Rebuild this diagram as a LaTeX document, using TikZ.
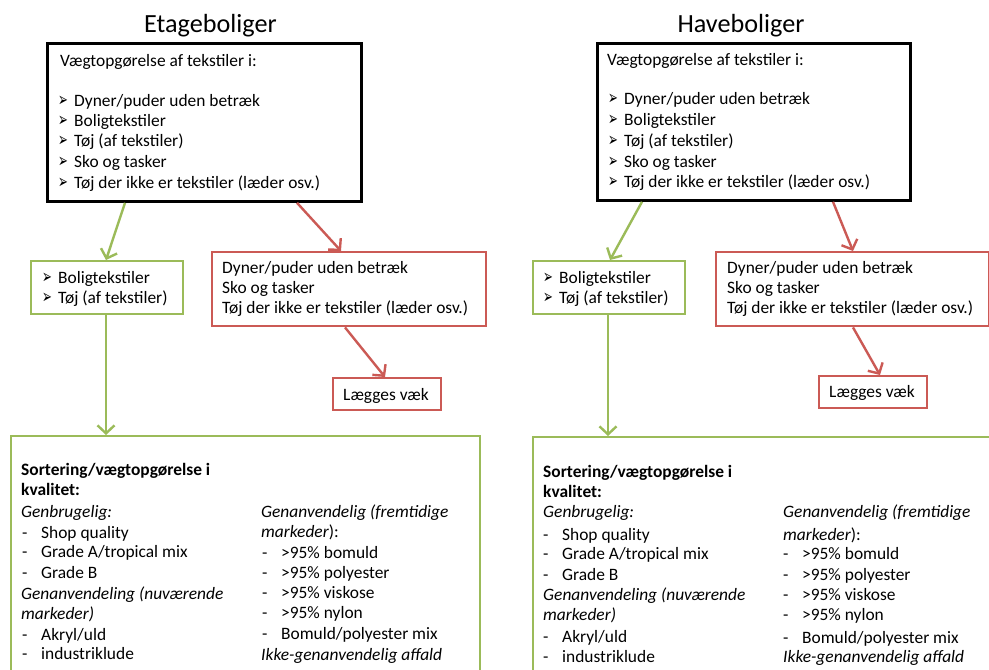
\documentclass[tikz,border=0pt]{standalone}
\usepackage{fontspec}
\setmainfont{Carlito}
\newfontfamily\symfont{DejaVu Sans}
\usetikzlibrary{arrows.meta,calc}
\definecolor{boxgreen}{HTML}{9BBB59}
\definecolor{boxred}{HTML}{CB5A55}
\newcommand\arrbullet{\makebox[16pt][l]{\raisebox{-0.3pt}{\scalebox{0.78}[1.3]{\symfont\fontsize{15}{16}\selectfont ➢}}}}
\newcommand\dashitem{\makebox[19pt][l]{-}}
\tikzset{
  frame/.style={rectangle, inner sep=0pt, anchor=north west, line width=2.4pt},
  blackframe/.style={frame, draw=black, line width=2.8pt},
  greenframe/.style={frame, draw=boxgreen},
  redframe/.style={frame, draw=boxred},
  txt/.style={anchor=base west, inner sep=0pt, font=\fontsize{17.4}{20}\selectfont},
  ctxt/.style={anchor=base, inner sep=0pt, font=\fontsize{17.4}{20}\selectfont},
  heading/.style={anchor=base, inner sep=0pt, font=\fontsize{26.2}{30}\selectfont},
  greenarrow/.style={draw=boxgreen, line width=2.4pt, -{Straight Barb[length=8pt,width=17pt]}},
  redarrow/.style={draw=boxred, line width=2.4pt, -{Straight Barb[length=8pt,width=17pt]}},
}
\begin{document}
\begin{tikzpicture}[x=1pt,y=-1pt]
\clip (0,0) rectangle (989,670);
\fill[white] (0,0) rectangle (989,670);

% ---------------- Etageboliger ----------------
\node[heading] (titleL) at (210.5,32) {Etageboliger};
\node[blackframe, minimum width=314pt, minimum height=158pt] (qL) at (46,42) {};
\node[txt] (qLh) at (60,66.5) {Vægtopgørelse af tekstiler i:};
\node[txt] (qL1) at (58,106) {\arrbullet Dyner/puder uden betræk};
\node[txt] (qL2) at (58,126) {\arrbullet Boligtekstiler};
\node[txt] (qL3) at (58,146) {\arrbullet Tøj (af tekstiler)};
\node[txt] (qL4) at (58,167) {\arrbullet Sko og tasker};
\node[txt] (qL5) at (58,188) {\arrbullet Tøj der ikke er tekstiler (læder osv.)};

\node[greenframe, minimum width=152pt, minimum height=53pt] (gL) at (30,260) {};
\node[txt] (gL1) at (42,283) {\arrbullet Boligtekstiler};
\node[txt] (gL2) at (42,303) {\arrbullet Tøj (af tekstiler)};

\node[redframe, minimum width=274pt, minimum height=74pt] (rL) at (211,251) {};
\node[txt] (rL1) at (222,273) {Dyner/puder uden betræk};
\node[txt] (rL2) at (222,293) {Sko og tasker};
\node[txt] (rL3) at (222,313) {Tøj der ikke er tekstiler (læder osv.)};

\node[redframe, minimum width=108pt, minimum height=32pt] (lL) at (332,377) {};
\node[ctxt] (lLt) at (386,400) {Lægges væk};

\node[greenframe, minimum width=469pt, minimum height=300pt] (bL) at (10,435) {};
\node[txt] (bL1) at (21,475) {\bfseries Sortering/vægtopgørelse i};
\node[txt] (bL2) at (21,495) {\bfseries kvalitet:};
\node[txt] (bL3) at (21,517) {\itshape Genbrugelig:};
\node[txt] (bL4) at (22,538) {\dashitem Shop quality};
\node[txt] (bL5) at (22,557) {\dashitem Grade A/tropical mix};
\node[txt] (bL6) at (22,578) {\dashitem Grade B};
\node[txt] (bL7) at (21,599) {\itshape Genanvendeling (nuværende};
\node[txt] (bL8) at (21,619) {\itshape markeder)};
\node[txt] (bL9) at (22,640) {\dashitem Akryl/uld};
\node[txt] (bL10) at (22,659) {\dashitem industriklude};
\node[txt] (bL11) at (261,517) {\itshape Genanvendelig (fremtidige};
\node[txt] (bL12) at (261,537) {\textit{markeder}):};
\node[txt] (bL13) at (262,558) {\dashitem >95\% bomuld};
\node[txt] (bL14) at (262,578) {\dashitem >95\% polyester};
\node[txt] (bL15) at (262,598) {\dashitem >95\% viskose};
\node[txt] (bL16) at (262,618) {\dashitem >95\% nylon};
\node[txt] (bL17) at (262,639) {\dashitem Bomuld/polyester mix};
\node[txt] (bL18) at (261,660) {\itshape Ikke-genanvendelig affald};

\draw[greenarrow] ($(qL.south west)+(79,0)$) -- ($(gL.north west)+(76,0)$);
\draw[greenarrow] ($(gL.south west)+(76,0)$) -- ($(bL.north west)+(96,0)$);
\draw[redarrow] ($(qL.south west)+(251,0)$) -- ($(rL.north west)+(130,0)$);
\draw[redarrow] ($(rL.south west)+(134,0)$) -- ($(lL.north west)+(53,0)$);

% ---------------- Haveboliger ----------------
\node[heading] (titleR) at (741,32) {Haveboliger};
\node[blackframe, minimum width=313pt, minimum height=157pt] (qR) at (596,42) {};
\node[txt] (qRh) at (607,65) {Vægtopgørelse af tekstiler i:};
\node[txt] (qR1) at (608,104) {\arrbullet Dyner/puder uden betræk};
\node[txt] (qR2) at (608,125) {\arrbullet Boligtekstiler};
\node[txt] (qR3) at (608,146) {\arrbullet Tøj (af tekstiler)};
\node[txt] (qR4) at (608,167) {\arrbullet Sko og tasker};
\node[txt] (qR5) at (608,187) {\arrbullet Tøj der ikke er tekstiler (læder osv.)};

\node[greenframe, minimum width=152pt, minimum height=53pt] (gR) at (532,260) {};
\node[txt] (gR1) at (543,283) {\arrbullet Boligtekstiler};
\node[txt] (gR2) at (543,303) {\arrbullet Tøj (af tekstiler)};

\node[redframe, minimum width=273pt, minimum height=74pt] (rR) at (715,251) {};
\node[txt] (rR1) at (727,273) {Dyner/puder uden betræk};
\node[txt] (rR2) at (727,293) {Sko og tasker};
\node[txt] (rR3) at (727,313) {Tøj der ikke er tekstiler (læder osv.)};

\node[redframe, minimum width=108pt, minimum height=32pt] (lR) at (818,375) {};
\node[ctxt] (lRt) at (872,397) {Lægges væk};

\node[greenframe, minimum width=480pt, minimum height=300pt] (bR) at (532,436) {};
\node[txt] (bR1) at (543,477) {\bfseries Sortering/vægtopgørelse i};
\node[txt] (bR2) at (543,497) {\bfseries kvalitet:};
\node[txt] (bR3) at (543,517) {\itshape Genbrugelig:};
\node[txt] (bR4) at (543,540) {\dashitem Shop quality};
\node[txt] (bR5) at (543,559) {\dashitem Grade A/tropical mix};
\node[txt] (bR6) at (543,580) {\dashitem Grade B};
\node[txt] (bR7) at (543,600) {\itshape Genanvendeling (nuværende};
\node[txt] (bR8) at (543,620) {\itshape markeder)};
\node[txt] (bR9) at (543,642) {\dashitem Akryl/uld};
\node[txt] (bR10) at (543,662) {\dashitem industriklude};
\node[txt] (bR11) at (783,517) {\itshape Genanvendelig (fremtidige};
\node[txt] (bR12) at (783,540) {\textit{markeder}):};
\node[txt] (bR13) at (783,559) {\dashitem >95\% bomuld};
\node[txt] (bR14) at (783,580) {\dashitem >95\% polyester};
\node[txt] (bR15) at (783,600) {\dashitem >95\% viskose};
\node[txt] (bR16) at (783,620) {\dashitem >95\% nylon};
\node[txt] (bR17) at (783,643) {\dashitem Bomuld/polyester mix};
\node[txt] (bR18) at (783,662) {\itshape Ikke-genanvendelig affald};

\draw[greenarrow] ($(qR.south west)+(46,0)$) -- ($(gR.north west)+(78,0)$);
\draw[greenarrow] ($(gR.south west)+(76,0)$) -- ($(bR.north west)+(76,0)$);
\draw[redarrow] ($(qR.south west)+(237,0)$) -- ($(rR.north west)+(138,0)$);
\draw[redarrow] ($(rR.south west)+(138,0)$) -- ($(lR.north west)+(62,0)$);
\end{tikzpicture}
\end{document}
